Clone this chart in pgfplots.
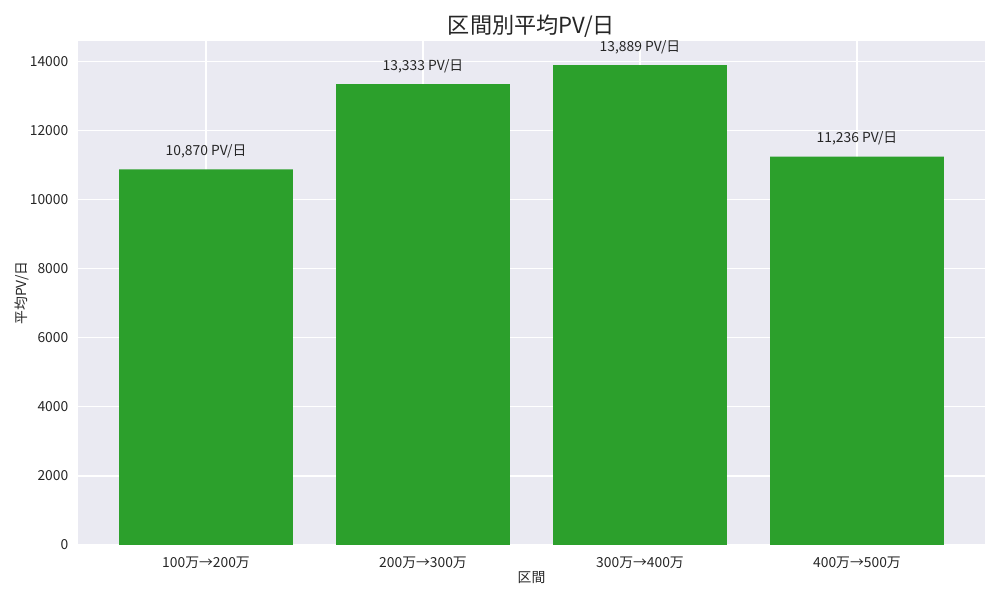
\documentclass[border=0pt]{standalone}
\usepackage{pgfplots}
\pgfplotsset{compat=1.18}
\usepackage{fontspec}
\setmainfont{Noto Sans CJK JP}
\definecolor{bg}{HTML}{EAEAF2}
\definecolor{barc}{HTML}{2CA02C}
\definecolor{txt}{HTML}{262626}
\begin{document}
\begin{tikzpicture}
\useasboundingbox (0,0) rectangle (722.7pt,433.62pt);
\begin{axis}[
  at={(56.37pt,39.75pt)}, anchor=south west,
  scale only axis, width=655.5pt, height=364.2pt,
  axis background/.style={fill=bg},
  axis line style={draw=none},
  xmin=-0.59, xmax=3.59, ymin=0, ymax=14583,
  xtick={0,1,2,3},
  xticklabels={100万→200万,200万→300万,300万→400万,400万→500万},
  ytick={0,2000,4000,6000,8000,10000,12000,14000},
  scaled y ticks=false,
  /pgf/number format/1000 sep={},
  /pgf/number format/assume math mode=true,
  grid=major,
  major grid style={white, line width=0.9pt},
  major tick length=0pt,
  tick label style={font=\fontsize{10}{12}\selectfont, text=txt},
  yticklabel style={xshift=-3.5pt},
  xticklabel style={yshift=-5pt},
  title={区間別平均PV/日},
  every axis title/.style={font=\fontsize{16}{19}\selectfont, text=txt, at={(axis description cs:0.5,1.0298)}, anchor=center},
  xlabel={区間},
  ylabel={平均PV/日},
  label style={font=\fontsize{10}{12}\selectfont, text=txt},
  xlabel style={at={(axis description cs:0.5,-0.0655)}, anchor=center},
  ylabel style={at={(axis description cs:-0.0617,0.5)}, anchor=center},
  ybar, bar width=0.8, bar shift=0pt,
  nodes near coords={\pgfmathprintnumber[1000 sep={,}]{\pgfplotspointmeta} PV/日},
  every node near coord/.append style={font=\fontsize{10}{12}\selectfont, text=txt, anchor=center, yshift=13pt},
]
\addplot[fill=barc, draw=none] coordinates {(0,10870) (1,13333) (2,13889) (3,11236)};
\end{axis}
\end{tikzpicture}
\end{document}
